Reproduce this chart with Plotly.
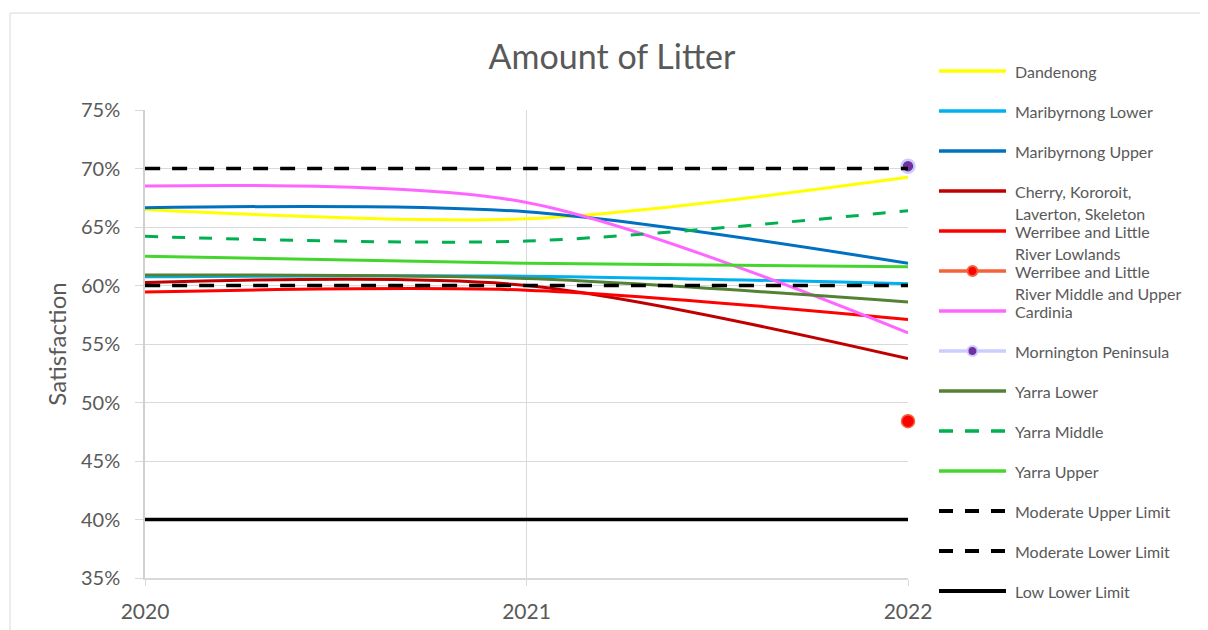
import plotly.graph_objects as go

# ---------------- data ----------------
years = [2020, 2021, 2022]
dandenong = [0.665, 0.657, 0.6925]
maribyrnong_lower = [0.6075, 0.608, 0.6015]
maribyrnong_upper = [0.6665, 0.663, 0.619]
cherry = [0.6025, 0.600, 0.5375]
werribee_lowlands = [0.5945, 0.596, 0.571]
werribee_middle_years = [2022]
werribee_middle = [0.484]
cardinia = [0.685, 0.671, 0.5595]
mornington_years = [2022]
mornington = [0.702]
yarra_lower = [0.609, 0.606, 0.586]
yarra_middle = [0.642, 0.638, 0.664]
yarra_upper = [0.625, 0.619, 0.616]
moderate_upper = [0.70, 0.70, 0.70]
moderate_lower = [0.60, 0.60, 0.60]
low_lower = [0.40, 0.40, 0.40]

legend_names = [
    "Dandenong", "Maribyrnong Lower", "Maribyrnong Upper",
    "Cherry, Kororoit,\nLaverton, Skeleton", "Werribee and Little\nRiver Lowlands",
    "Werribee and Little\nRiver Middle and Upper", "Cardinia", "Mornington Peninsula",
    "Yarra Lower", "Yarra Middle", "Yarra Upper", "Moderate Upper Limit",
    "Moderate Lower Limit", "Low Lower Limit",
]
y_ticks = [0.35, 0.40, 0.45, 0.50, 0.55, 0.60, 0.65, 0.70, 0.75]

# ---------------- styles ----------------
series = [
    (years, dandenong, dict(color="#FFFF00", width=3), None),
    (years, maribyrnong_lower, dict(color="#00B0F0", width=3), None),
    (years, maribyrnong_upper, dict(color="#0070C0", width=3), None),
    (years, cherry, dict(color="#C00000", width=3), None),
    (years, werribee_lowlands, dict(color="#FF0000", width=3), None),
    (werribee_middle_years, werribee_middle, dict(color="#F4623A", width=3),
     dict(color="#FF0000", size=13, line=dict(color="#F4623A", width=1.5))),
    (years, cardinia, dict(color="#FF66FF", width=3), None),
    (mornington_years, mornington, dict(color="#CCCCFF", width=3),
     dict(color="#7030A0", size=13, line=dict(color="#CCCCFF", width=2.5))),
    (years, yarra_lower, dict(color="#548235", width=3), None),
    (years, yarra_middle, dict(color="#00B050", width=3, dash="13px,14px"), None),
    (years, yarra_upper, dict(color="#44D62C", width=3), None),
    (years, moderate_upper, dict(color="#000000", width=3.5, dash="15px,12px"), None),
    (years, moderate_lower, dict(color="#000000", width=3.5, dash="15px,12px"), None),
    (years, low_lower, dict(color="#000000", width=3.5), None),
]

TXT = "#595959"
FONT = "Lato"
W, H = 1208, 630
OFF = 8  # page body margin
# target positions (screen pixels) of plot area
SX0, SX1, SY0, SY1 = 145, 908, 110, 578
L, T = SX0 - OFF, SY0 - OFF
R, B = W - (SX1 - OFF), H - (SY1 - OFF)
PW, PH = SX1 - SX0, SY1 - SY0


def px_x(px):
    return (px - SX0) / PW


def px_y(py):
    return (SY1 - py) / PH


fig = go.Figure()
for (xs, ys, line, marker), name in zip(series, legend_names):
    fig.add_trace(go.Scatter(
        x=xs, y=ys, name=name.replace("\n", " "),
        mode="lines+markers" if marker else "lines",
        line=dict(shape="spline", smoothing=0.85, **line),
        marker=marker if marker else None,
        showlegend=False, cliponaxis=False,
    ))

shapes = []
annotations = []
# outer chart border
shapes.append(dict(type="rect", xref="paper", yref="paper",
                   x0=px_x(10), x1=px_x(1240), y0=px_y(660), y1=px_y(13),
                   line=dict(color="#D9D9D9", width=1), fillcolor="rgba(0,0,0,0)", layer="below"))

# manual legend
for i, ((xs, ys, line, marker), name) in enumerate(zip(series, legend_names)):
    yc = 71 + 40 * i
    sh = dict(type="line", xref="paper", yref="paper",
              x0=px_x(939), x1=px_x(1006), y0=px_y(yc), y1=px_y(yc),
              line=dict(color=line["color"], width=line["width"] + 0.5))
    if "dash" in line:
        sh["line"]["dash"] = "14px,12px"
    shapes.append(sh)
    if marker:
        r = 5
        shapes.append(dict(type="circle", xref="paper", yref="paper",
                           xsizemode="pixel", ysizemode="pixel",
                           xanchor=px_x(972.5), yanchor=px_y(yc),
                           x0=-r, x1=r, y0=-r, y1=r,
                           fillcolor=marker["color"],
                           line=dict(color=marker["line"]["color"], width=2)))
    for j, part in enumerate(name.split("\n")):
        annotations.append(dict(xref="paper", yref="paper", x=px_x(1014), y=px_y(yc + 22 * j),
                                xanchor="left", yanchor="middle", text=part, showarrow=False,
                                borderpad=0,
                                font=dict(family=FONT, size=16, color=TXT)))

fig.update_layout(
    width=W, height=H,
    margin=dict(l=L, r=R, t=T, b=B, autoexpand=False),
    paper_bgcolor="white", plot_bgcolor="white",
    font=dict(family=FONT, color=TXT),
    title=dict(text="Amount of Litter", xref="container", x=(612 - OFF) / W, xanchor="center",
               yref="container", y=1 - (57 - OFF) / H, yanchor="middle",
               font=dict(family=FONT, size=34, color=TXT)),
    showlegend=False,
    shapes=shapes,
    annotations=annotations,
)
fig.update_xaxes(
    range=[2020, 2022], tickvals=years, ticktext=[str(y) for y in years],
    showgrid=True, gridcolor="#D9D9D9", gridwidth=1,
    showline=True, linecolor="#D9D9D9", linewidth=1.5,
    ticks="outside", ticklen=6, tickcolor="#D9D9D9", ticklabelstandoff=8,
    tickfont=dict(family=FONT, size=21, color=TXT), zeroline=False,
)
fig.update_yaxes(
    range=[0.35, 0.75], tickvals=y_ticks, tickformat=".0%",
    showgrid=True, gridcolor="#D9D9D9", gridwidth=1,
    showline=True, linecolor="#D0D0D0", linewidth=1.5,
    ticks="outside", ticklen=8, tickcolor="#D9D9D9", ticklabelstandoff=11,
    tickfont=dict(family=FONT, size=20, color=TXT), zeroline=False,
    title=dict(text="Satisfaction", font=dict(family=FONT, size=24, color=TXT), standoff=8),
)

fig.write_html("out.html")
